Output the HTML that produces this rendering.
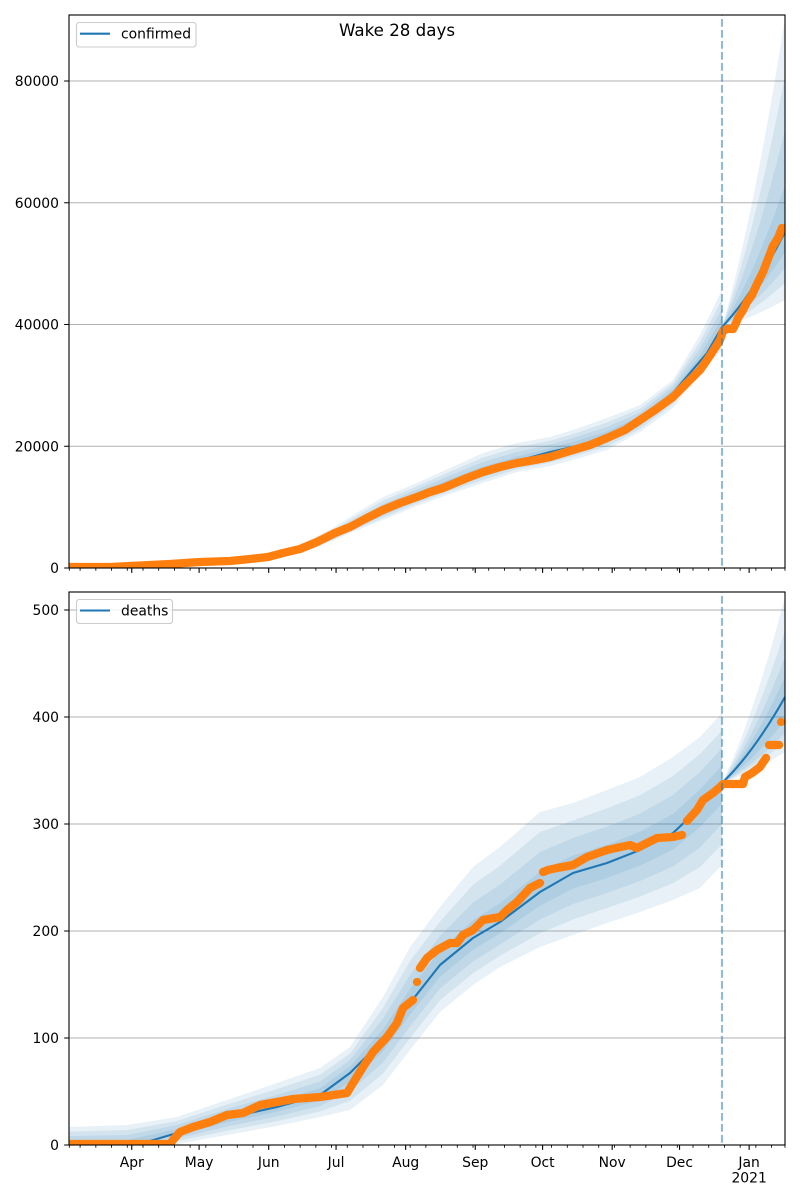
<!DOCTYPE html>
<html>
<head>
<meta charset="utf-8">
<style>
html,body{margin:0;padding:0;background:#fff;}
svg{display:block;}
text{font-family:"DejaVu Sans","Liberation Sans",sans-serif;fill:#000;}
</style>
</head>
<body>
<svg width="800" height="1200" viewBox="0 0 800 1200" xmlns="http://www.w3.org/2000/svg">
<defs>
<clipPath id="c1"><rect x="69" y="15" width="716" height="553"/></clipPath>
<clipPath id="c2"><rect x="69" y="592" width="716" height="553"/></clipPath>
</defs>
<rect width="800" height="1200" fill="#fff"/>

<!-- ============ TOP CHART ============ -->
<g clip-path="url(#c1)">
<g stroke="#b0b0b0" stroke-width="1.1">
<line x1="69" y1="81" x2="785" y2="81"/>
<line x1="69" y1="202.75" x2="785" y2="202.75"/>
<line x1="69" y1="324.5" x2="785" y2="324.5"/>
<line x1="69" y1="446.25" x2="785" y2="446.25"/>
</g>
<g fill="#1f77b4" fill-opacity="0.1">
<path d="M69,566 L200,561 268,555 300,545 333,528 350,517 383,497 417,483 450,468 483,453 517,443 550,437 573,430 607,418 640,405 673,380 700,335 722,290 L722,350 700,373 673,408 640,432 607,450 573,460 550,466 517,472 483,483 450,494 417,506 383,520 350,533 333,541 300,553 268,561 200,566 69,568 Z"/>
<path d="M69,566.5 L200,561.5 268,555.75 300,546 333,530 350,519.75 383,500.5 417,486.25 450,471.75 483,457.5 517,447.5 550,440.75 573,434 607,422.5 640,408.75 673,383.25 700,341.75 722,299.25 L722,344.25 700,370.25 673,404.25 640,429 607,446.5 573,456.5 550,462.5 517,469.25 483,480 450,491.25 417,503.5 383,517.75 350,531.75 333,539.75 300,552 268,560.25 200,565.25 69,568 Z"/>
<path d="M69,567 L200,562 268,556.5 300,547 333,532 350,522.5 383,504 417,489.5 450,475.5 483,462 517,452 550,444.5 573,438 607,427 640,412.5 673,386.5 700,348.5 722,308.5 L722,338.5 700,367.5 673,400.5 640,426 607,443 573,453 550,459 517,466.5 483,477 450,488.5 417,501 383,515.5 350,530.5 333,538.5 300,551 268,559.5 200,564.5 69,568 Z"/>
<path d="M69,567.5 L200,562.5 268,557.25 300,548 333,534 350,525.25 383,507.5 417,492.75 450,479.25 483,466.5 517,456.5 550,448.25 573,442 607,431.5 640,416.25 673,389.75 700,355.25 722,317.75 L722,332.75 700,364.75 673,396.75 640,423 607,439.5 573,449.5 550,455.5 517,463.75 483,474 450,485.75 417,498.5 383,513.25 350,529.25 333,537.25 300,550 268,558.75 200,563.75 69,568 Z"/>
<path d="M722,327 Q753.5,218.85 785,18 L785,300 Q753.5,317.55 722,327 Z"/>
<path d="M722,327 Q753.5,238.8 785,75 L785,283 Q753.5,311.6 722,327 Z"/>
<path d="M722,327 Q753.5,258.05 785,130 L785,268 Q753.5,306.35 722,327 Z"/>
<path d="M722,327 Q753.5,277.3 785,185 L785,252 Q753.5,300.75 722,327 Z"/>
</g>
<polyline fill="none" stroke="#1f77b4" stroke-width="2.1" stroke-linejoin="round" points="69,568 150,566 200,563 268,558 300,549 335,535 365,521 400,502 430,490 450,483 483,471 517,461 550,452 590,443 607,437 640,420 673,393 707,353 722,327"/>
<path d="M722,327 Q753.5,293.75 785,232" fill="none" stroke="#1f77b4" stroke-width="2.1"/>
<polyline fill="none" stroke="#ff7f0e" stroke-width="8.3" stroke-linecap="round" stroke-linejoin="round" points="69,567 110,567 130,566 150,565 170,564 200,562 230,561 250,559 268,557 283,553 300,549 317,542 335,533 350,527 365,519 383,510 400,503 417,497 430,492 443,488 455,483 467,478 475,475 483,472 500,467 517,463 535,460 550,457 573,450 590,445 607,438 625,430 640,420 655,410 673,397 690,380 700,370 707,360 715,348 720,340 723,331 727,329 733,329 736,323 738,318 743,310 747,302 752,295 757,284 763,272 768,259 773,246 778,238 782,228"/>
<line x1="722" y1="15" x2="722" y2="568" stroke="#1f77b4" stroke-opacity="0.5" stroke-width="2.1" stroke-dasharray="7.7 3.3" stroke-dashoffset="-4"/>
</g>
<rect x="69" y="15" width="716" height="553" fill="none" stroke="#000" stroke-width="1.1"/>

<!-- ============ BOTTOM CHART ============ -->
<g clip-path="url(#c2)">
<g stroke="#b0b0b0" stroke-width="1.1">
<line x1="69" y1="610" x2="785" y2="610"/>
<line x1="69" y1="717" x2="785" y2="717"/>
<line x1="69" y1="824" x2="785" y2="824"/>
<line x1="69" y1="931" x2="785" y2="931"/>
<line x1="69" y1="1038" x2="785" y2="1038"/>
</g>
<g fill="#1f77b4" fill-opacity="0.1">
<path d="M69,1127 L127,1125 177,1117 227,1100 277,1083 320,1068 350,1047 383,997 410,947 440,907 473,867 500,847 540,812 573,803 607,790 640,777 673,757 700,737 722,713 L722,865 700,888 673,900 640,912 607,923 573,935 540,947 500,967 473,985 440,1012 410,1050 383,1085 350,1110 320,1117 277,1126 227,1135 177,1144 127,1145 69,1145 Z"/>
<path d="M69,1131.5 L127,1130 177,1121 227,1104.5 277,1089 320,1074.75 350,1053.5 383,1007.75 410,961 440,921.5 473,884.75 500,865.75 540,832 573,820.5 607,808.25 640,795.25 673,776 700,754 722,730.5 L722,844.5 700,867 673,883.25 640,896.5 607,908 573,919.5 540,933.25 500,955.75 473,973.25 440,1000.25 410,1038.25 383,1073.75 350,1100.75 320,1111.5 277,1121.25 227,1130.75 177,1141.25 127,1145 69,1145 Z"/>
<path d="M69,1136 L127,1135 177,1125 227,1109 277,1095 320,1081.5 350,1060 383,1018.5 410,975 440,936 473,902.5 500,884.5 540,852 573,838 607,826.5 640,813.5 673,795 700,772 722,748 L722,824 700,847.5 673,866.5 640,881 607,893 573,904 540,919.5 500,944.5 473,961.5 440,988.5 410,1026.5 383,1062.5 350,1091.5 320,1106 277,1116.5 227,1126.5 177,1138.5 127,1145 69,1145 Z"/>
<path d="M69,1140.5 L127,1140 177,1129 227,1113.5 277,1101 320,1088.25 350,1066.5 383,1029.25 410,989 440,950.5 473,920.25 500,903.25 540,872 573,855.5 607,844.75 640,831.75 673,814 700,789.5 722,765.5 L722,803.5 700,827 673,849.75 640,865.5 607,878 573,888.5 540,905.75 500,933.25 473,949.75 440,976.75 410,1014.75 383,1051.25 350,1082.25 320,1100.5 277,1111.75 227,1122.25 177,1135.75 127,1145 69,1145 Z"/>
<path d="M722,783 Q753.5,717.9 785,597 L785,752 Q753.5,772.15 722,783 Z"/>
<path d="M722,783 Q753.5,729.45 785,630 L785,742 Q753.5,768.65 722,783 Z"/>
<path d="M722,783 Q753.5,738.9 785,657 L785,733 Q753.5,765.5 722,783 Z"/>
<path d="M722,783 Q753.5,745.9 785,677 L785,720 Q753.5,761 722,783 Z"/>
</g>
<polyline fill="none" stroke="#1f77b4" stroke-width="2.1" stroke-linejoin="round" points="69,1145 127,1145 150,1141 177,1133 227,1118 277,1107 320,1095 350,1073 383,1040 410,1003 440,965 473,938 500,922 540,892 573,873 607,863 640,850 673,833 690,817 707,800 722,783"/>
<path d="M722,783 Q753.5,752.9 785,697" fill="none" stroke="#1f77b4" stroke-width="2.1"/>
<g fill="none" stroke="#ff7f0e" stroke-width="8.3" stroke-linecap="round" stroke-linejoin="round">
<polyline points="69,1144 170,1144 173,1140 180,1132 193,1127 210,1122 227,1115 243,1113 260,1105 277,1102 293,1099 320,1097 347,1093 353,1083 363,1067 373,1052 387,1037 397,1023 403,1008 413,1000"/>
<polyline points="420,968 427,958 437,950 450,943 457,943 463,935 473,930 483,920 500,917 507,910 517,902 530,888 540,883"/>
<polyline points="543,872 548,870 557,868 573,865 587,857 607,850 630,845 637,848 657,838 673,837 682,835"/>
<polyline points="687,821 697,810 703,800 713,793 720,787 723,784 743,784 745,777 752,773 760,767 766,758"/>
<polyline points="769,745 779,745"/>
</g>
<g fill="#ff7f0e">
<circle cx="417" cy="982" r="4.15"/>
<circle cx="781" cy="722" r="4.15"/>
<circle cx="687" cy="821" r="4.15"/>
<circle cx="766" cy="758" r="4.15"/>
<circle cx="779" cy="745" r="4.15"/>
</g>
<line x1="722" y1="592" x2="722" y2="1145" stroke="#1f77b4" stroke-opacity="0.5" stroke-width="2.1" stroke-dasharray="7.7 3.3" stroke-dashoffset="-4"/>
</g>
<rect x="69" y="592" width="716" height="553" fill="none" stroke="#000" stroke-width="1.1"/>

<!-- ============ X TICKS ============ -->
<g id="xt">
<path stroke="#000" stroke-width="1.1" fill="none" d="M131.76,568v4.86M199.11,568v4.86M268.71,568v4.86M336.06,568v4.86M405.65,568v4.86M475.25,568v4.86M542.6,568v4.86M612.19,568v4.86M679.54,568v4.86M749.14,568v4.86"/>
<path stroke="#000" stroke-width="0.85" fill="none" d="M69.3,568v2.78M80.1,568v2.78M95.84,568v2.78M111.56,568v2.78M127.27,568v2.78M142.99,568v2.78M158.7,568v2.78M174.42,568v2.78M190.13,568v2.78M205.85,568v2.78M221.56,568v2.78M237.28,568v2.78M252.99,568v2.78M284.42,568v2.78M300.14,568v2.78M315.85,568v2.78M331.57,568v2.78M347.28,568v2.78M363,568v2.78M378.71,568v2.78M394.43,568v2.78M410.14,568v2.78M425.86,568v2.78M441.57,568v2.78M457.29,568v2.78M473,568v2.78M488.72,568v2.78M504.43,568v2.78M520.15,568v2.78M535.86,568v2.78M551.58,568v2.78M567.29,568v2.78M583.01,568v2.78M598.72,568v2.78M614.44,568v2.78M630.15,568v2.78M645.87,568v2.78M661.58,568v2.78M677.3,568v2.78M693.01,568v2.78M708.73,568v2.78M724.44,568v2.78M740.16,568v2.78M755.87,568v2.78M771.59,568v2.78M785,568v2.78"/>
</g>
<use href="#xt" transform="translate(0,577)"/>

<!-- ============ Y TICKS ============ -->
<path stroke="#000" stroke-width="1.1" fill="none" d="M69,568h-4.86M69,446.25h-4.86M69,324.5h-4.86M69,202.75h-4.86M69,81h-4.86M69,1145h-4.86M69,1038h-4.86M69,931h-4.86M69,824h-4.86M69,717h-4.86M69,610h-4.86"/>

<g font-size="13.9" text-anchor="end">
<text x="59" y="573">0</text>
<text x="59" y="451.25">20000</text>
<text x="59" y="329.5">40000</text>
<text x="59" y="207.75">60000</text>
<text x="59" y="86">80000</text>
<text x="59" y="1150">0</text>
<text x="59" y="1043">100</text>
<text x="59" y="936">200</text>
<text x="59" y="829">300</text>
<text x="59" y="722">400</text>
<text x="59" y="615">500</text>
</g>

<g font-size="13.9" text-anchor="middle">
<text x="131.76" y="1167">Apr</text>
<text x="199.11" y="1167">May</text>
<text x="268.71" y="1167">Jun</text>
<text x="336.06" y="1167">Jul</text>
<text x="405.65" y="1167">Aug</text>
<text x="475.25" y="1167">Sep</text>
<text x="542.6" y="1167">Oct</text>
<text x="612.19" y="1167">Nov</text>
<text x="679.54" y="1167">Dec</text>
<text x="749.14" y="1167">Jan</text>
<text x="749.14" y="1182.5">2021</text>
</g>

<text x="397" y="36" font-size="16.67" text-anchor="middle">Wake 28 days</text>

<rect x="76.5" y="22.5" width="119.5" height="24.5" rx="2.8" ry="2.8" fill="#fff" fill-opacity="0.8" stroke="#cccccc" stroke-width="1.1"/>
<line x1="80" y1="33.7" x2="110" y2="33.7" stroke="#1f77b4" stroke-width="2.1"/>
<text x="121" y="38.5" font-size="13.9">confirmed</text>

<rect x="76.5" y="599.5" width="96" height="24" rx="2.8" ry="2.8" fill="#fff" fill-opacity="0.8" stroke="#cccccc" stroke-width="1.1"/>
<line x1="80" y1="610.5" x2="110" y2="610.5" stroke="#1f77b4" stroke-width="2.1"/>
<text x="121" y="615.5" font-size="13.9">deaths</text>
</svg>
</body>
</html>
